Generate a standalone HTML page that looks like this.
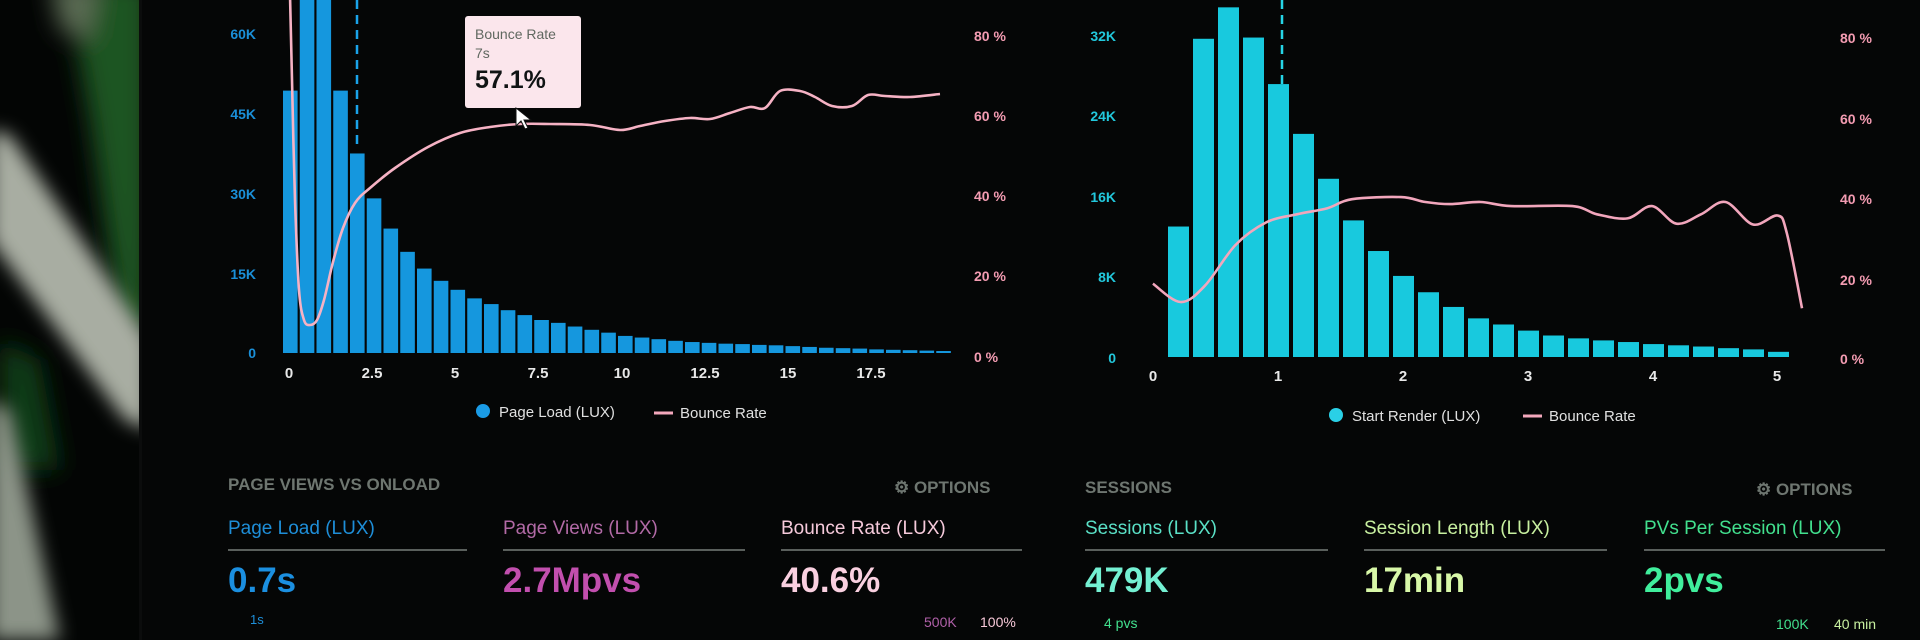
<!DOCTYPE html>
<html><head><meta charset="utf-8"><style>
html,body{margin:0;padding:0;background:#040505;}
#w{position:relative;width:1920px;height:640px;overflow:hidden;background:#050606;font-family:"Liberation Sans",sans-serif;}
svg{position:absolute;left:0;top:0}
</style></head><body><div id="w">
<svg id="s" width="1920" height="640" xmlns="http://www.w3.org/2000/svg">
<defs>
<filter id="b1" x="-50%" y="-50%" width="200%" height="200%"><feGaussianBlur stdDeviation="12"/></filter>
<filter id="b2" x="-50%" y="-50%" width="200%" height="200%"><feGaussianBlur stdDeviation="9"/></filter>
<clipPath id="cp"><rect x="0" y="0" width="139" height="640"/></clipPath>
</defs>
<rect x="0" y="0" width="139" height="640" fill="#030504"/>
<g clip-path="url(#cp)">
<g filter="url(#b1)">
<path d="M65 -20 L150 -20 L150 330 L120 330 L90 120 Z" fill="#1a5421"/>
<path d="M50 -20 L100 -20 L90 40 L60 30 Z" fill="#5a6a52"/>
<path d="M0 340 L40 360 L60 470 L0 470 Z" fill="#0f3a16"/>
</g>
<g filter="url(#b2)">
<path d="M-10 130 L10 135 L150 340 L150 430 L125 420 L-10 240 Z" fill="#a8ada2"/>
<path d="M-10 400 L10 410 L60 640 L-10 640 Z" fill="#8c9488"/>
</g>
</g>
<rect x="139" y="0" width="3" height="640" fill="#0b0c0c"/>
<g id="g"></g>
</svg>
</div>
<script>
const g=document.getElementById('g');const NS='http://www.w3.org/2000/svg';
function el(n,a,txt){const e=document.createElementNS(NS,n);for(const k in a)e.setAttribute(k,a[k]);if(txt!==undefined)e.textContent=txt;g.appendChild(e);return e;}
const X=(z,o)=>o+z/1.633, Y=z=>z/2.45;
const lt=[222,-50,-50,222,376,486,560,617,658,688,710,731,745,760,772,784,791,800,808,815,823,827,831,835,838,840,842,843,845,846,848,850,852,853,854,856,857,858,859,860];
lt.forEach((t,i)=>{const x=283+i*16.75;const y=Y(t);el('rect',{x:x,y:y,width:14.6,height:353-y,fill:'#1597de'});});
const rt=[555,95,18,92,206,328,438,540,615,676,716,752,780,795,810,822,829,834,838,843,846,849,853,856,862];
rt.forEach((t,i)=>{const x=1168+i*25.0;const y=Y(t);el('rect',{x:x,y:y,width:21,height:357-y,fill:'#18c9de'});});
el('line',{x1:357,y1:0,x2:357,y2:150,stroke:'#1aa3ea','stroke-width':2.5,'stroke-dasharray':'9 6'});
el('line',{x1:1282,y1:0,x2:1282,y2:84,stroke:'#26d4e6','stroke-width':2.5,'stroke-dasharray':'9 6'});
function smooth(pts){let d='M'+pts[0][0].toFixed(1)+' '+pts[0][1].toFixed(1);
for(let i=0;i<pts.length-1;i++){const p0=pts[i-1]||pts[i],p1=pts[i],p2=pts[i+1],p3=pts[i+2]||p2;
const c1=[p1[0]+(p2[0]-p0[0])/6,p1[1]+(p2[1]-p0[1])/6],c2=[p2[0]-(p3[0]-p1[0])/6,p2[1]-(p3[1]-p1[1])/6];
d+=' C'+c1.map(v=>v.toFixed(1)).join(' ')+' '+c2.map(v=>v.toFixed(1)).join(' ')+' '+p2[0].toFixed(1)+' '+p2[1].toFixed(1);}return d;}
const lp=[[290,-5],[292,80],[295,200],[299,290],[304,320],[310,325],[317,320],[324,300],[333,262],[343,228],[355,203],[370,188],[395,168],[428,147],[460,133],[490,127],[520,124],[550,124],[590,125],[620,130],[640,126],[665,121],[690,118],[710,119],[730,113],[750,107],[765,108],[780,91],[800,91],[815,97],[832,106],[852,106],[868,95],[885,96],[910,97],[940,94]];
el('path',{d:smooth(lp),fill:'none',stroke:'#f6b2c4','stroke-width':2.6});
const rc=[[315,695],[360,740],[400,700],[450,600],[500,545],[550,525],[600,510],[640,488],[720,483],[760,495],[800,500],[850,495],[900,505],[1000,505],[1040,525],[1090,535],[1130,505],[1170,548],[1210,525],[1250,495],[1295,550],[1335,528],[1350,570],[1375,755]].map(p=>[X(p[0],960),Y(p[1])]);
el('path',{d:smooth(rc),fill:'none',stroke:'#f2a6bc','stroke-width':2.6});
function txt(x,y,s,fill,size,anchor,weight){el('text',{x:x,y:y,fill:fill,'font-size':size,'text-anchor':anchor||'start','font-weight':weight||'normal','font-family':'Liberation Sans, sans-serif'},s);}
[['60K',39],['45K',119],['30K',199],['15K',279],['0',358]].forEach(a=>txt(256,a[1],a[0],'#1a8fd8',14,'end','bold'));
[['0',289],['2.5',372],['5',455],['7.5',538],['10',622],['12.5',705],['15',788],['17.5',871]].forEach(a=>txt(a[1],378,a[0],'#e8e8e8',15,'middle','bold'));
[['80 %',41],['60 %',121],['40 %',201],['20 %',281],['0 %',362]].forEach(a=>txt(974,a[1],a[0],'#f49cb2',14,'start','bold'));
[['32K',41],['24K',121],['16K',202],['8K',282],['0',363]].forEach(a=>txt(1116,a[1],a[0],'#22c8dc',14,'end','bold'));
[['0',1153],['1',1278],['2',1403],['3',1528],['4',1653],['5',1777]].forEach(a=>txt(a[1],381,a[0],'#e8e8e8',15,'middle','bold'));
[['80 %',43],['60 %',124],['40 %',204],['20 %',285],['0 %',364]].forEach(a=>txt(1840,a[1],a[0],'#f49cb2',14,'start','bold'));
el('circle',{cx:483,cy:411,r:7,fill:'#1a9be6'});txt(499,417,'Page Load (LUX)','#e0e0e0',15);
el('line',{x1:654,y1:413,x2:673,y2:413,stroke:'#f4a8bc','stroke-width':3});txt(680,418,'Bounce Rate','#e0e0e0',15);
el('circle',{cx:1336,cy:415,r:7,fill:'#2ad0e6'});txt(1352,421,'Start Render (LUX)','#e0e0e0',15);
el('line',{x1:1523,y1:416,x2:1542,y2:416,stroke:'#f4a8bc','stroke-width':3});txt(1549,421,'Bounce Rate','#e0e0e0',15);
el('rect',{x:465,y:16,width:116,height:92,rx:3,fill:'#fbe6ec'});
txt(475,39,'Bounce Rate','#606860',14);txt(475,58,'7s','#606860',14);txt(475,88,'57.1%','#101414',25,'start','bold');
el('path',{d:'M516 108 L516 126 L521 121 L525 129 L528 128 L524 120 L531 120 Z',fill:'#fff',stroke:'#111','stroke-width':1});
txt(228,490,'PAGE VIEWS VS ONLOAD','#6e7670',17,'start','bold');
txt(894,493,'⚙ OPTIONS','#6e7670',17,'start','bold');
txt(1085,493,'SESSIONS','#6e7670',17,'start','bold');
txt(1756,495,'⚙ OPTIONS','#6e7670',17,'start','bold');
const cols=[[228,467,'Page Load (LUX)','#1e8ed8','0.7s','#1b8fe0'],[503,745,'Page Views (LUX)','#b26aa6','2.7Mpvs','#c24fae'],[781,1022,'Bounce Rate (LUX)','#f6cadb','40.6%','#fad0e0'],[1085,1328,'Sessions (LUX)','#5ae0c6','479K','#74f0d2'],[1364,1607,'Session Length (LUX)','#c8f0a0','17min','#d8f8a8'],[1644,1885,'PVs Per Session (LUX)','#42e08e','2pvs','#40ee9c']];
cols.forEach(c=>{txt(c[0],534,c[2],c[3],19);el('line',{x1:c[0],y1:550,x2:c[1],y2:550,stroke:'#5a5f5c','stroke-width':2});txt(c[0],592,c[4],c[5],35,'start','bold');});
txt(250,624,'1s','#1e8ed8',13);
txt(924,627,'500K','#b060a8',14);txt(980,627,'100%','#f8c8d8',14);
txt(1104,628,'4 pvs','#42e08e',14);
txt(1776,629,'100K','#42e08e',14);txt(1834,629,'40 min','#c8f0a0',14);
</script>
</body></html>
